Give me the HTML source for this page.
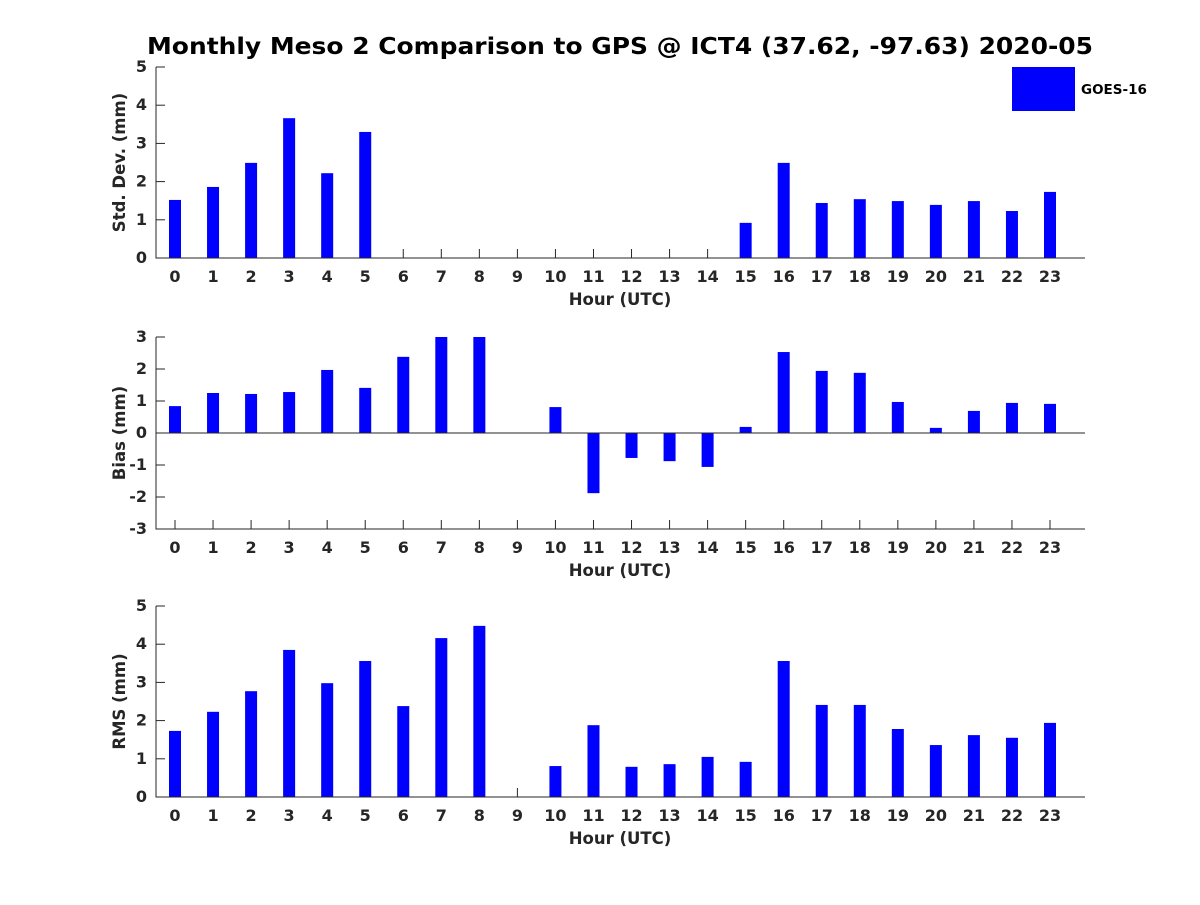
<!DOCTYPE html>
<html><head><meta charset="utf-8"><style>
body{margin:0;background:#fff}
svg text{font-family:"DejaVu Sans","Liberation Sans",sans-serif;font-weight:bold;fill:#262626}
</style></head><body>
<svg id="chart" width="1200" height="900" xmlns="http://www.w3.org/2000/svg">
<rect width="1200" height="900" fill="#fff"/>
<text x="620" y="54" text-anchor="middle" font-size="23" textLength="946" lengthAdjust="spacingAndGlyphs" style="fill:#000">Monthly Meso 2 Comparison to GPS @ ICT4 (37.62, -97.63) 2020-05</text>
<g>
<rect x="1012" y="67" width="63" height="44" fill="#0000ff"/>
<text x="1081" y="94" font-size="13.5" style="fill:#000">GOES-16</text>
</g>
</svg>
<script>
const hours=[0,1,2,3,4,5,6,7,8,9,10,11,12,13,14,15,16,17,18,19,20,21,22,23];
const stdVals=[1.52,1.86,2.49,3.66,2.22,3.3,0,0,0,0,0,0,0,0,0,0.92,2.49,1.44,1.54,1.49,1.39,1.49,1.23,1.73];
const biasVals=[0.84,1.25,1.22,1.28,1.97,1.41,2.38,3,3,0,0.81,-1.88,-0.78,-0.88,-1.06,0.19,2.53,1.94,1.88,0.97,0.16,0.69,0.94,0.91];
const rmsVals=[1.73,2.23,2.77,3.85,2.98,3.56,2.38,4.16,4.48,0,0.81,1.88,0.79,0.86,1.05,0.92,3.56,2.41,2.41,1.78,1.36,1.62,1.55,1.94];
const stdTicks=[0,1,2,3,4,5];
const biasTicks=[-3,-2,-1,0,1,2,3];
const rmsTicks=[0,1,2,3,4,5];
const NS='http://www.w3.org/2000/svg';
const svg=document.getElementById('chart');
function mk(tag,attrs,parent){const e=document.createElementNS(NS,tag);for(const k in attrs)e.setAttribute(k,attrs[k]);(parent||svg).appendChild(e);return e;}
const L=156,R=1085;
function xs(h){return 175+h*(1050-175)/23;}
function panel(name,vals,ticks,top,bot,ymin,ymax,ylabel){
  const g=mk('g',{});
  
  
  const ys=v=>bot-(v-ymin)/(ymax-ymin)*(bot-top);
  hours.forEach(h=>{
    const t=mk('line',{x1:xs(h),x2:xs(h),y1:bot,y2:bot-9,stroke:'#262626','stroke-width':1},g);
    
    
    const lb=mk('text',{x:xs(h),y:bot+24,'text-anchor':'middle','font-size':16},g);
    
    
    lb.textContent=h;
  });
  ticks.forEach(v=>{
    const t=mk('line',{x1:L,x2:L+9,y1:ys(v),y2:ys(v),stroke:'#262626','stroke-width':1},g);
    
    
    const lb=mk('text',{x:L-9,y:ys(v)+5,'text-anchor':'end','font-size':16},g);
    
    
    lb.textContent=v;
  });
  const base=ys(Math.max(0,ymin));
  vals.forEach((v,i)=>{
    if(v===0)return;
    const y=Math.min(ys(v),base),h=Math.abs(ys(v)-base);
    const b=mk('rect',{x:xs(hours[i])-6,y:y,width:12,height:h,fill:'#0000ff'},g);
    
    
  });
  const ax=mk('path',{d:`M${L},${top}V${bot}H${R}`,fill:'none',stroke:'#262626','stroke-width':1},g);
  
  
  if(ymin<0){
    const z=mk('line',{x1:L,x2:R,y1:ys(0),y2:ys(0),stroke:'#262626','stroke-width':1},g);
    
    
  }
  const xl=mk('text',{x:620,y:bot+47,'text-anchor':'middle','font-size':16.5},g);
  
  
  xl.textContent='Hour (UTC)';
  const cy=(top+bot)/2;
  const yl=mk('text',{x:0,y:0,'text-anchor':'middle','font-size':16.5,transform:`translate(125,${cy}) rotate(-90)`},g);
  
  
  yl.textContent=ylabel;
}
panel('std-dev',stdVals,stdTicks,67,258,0,5,'Std. Dev. (mm)');
panel('bias',biasVals,biasTicks,337,529,-3,3,'Bias (mm)');
panel('rms',rmsVals,rmsTicks,606,797,0,5,'RMS (mm)');
</script>
</body></html>
